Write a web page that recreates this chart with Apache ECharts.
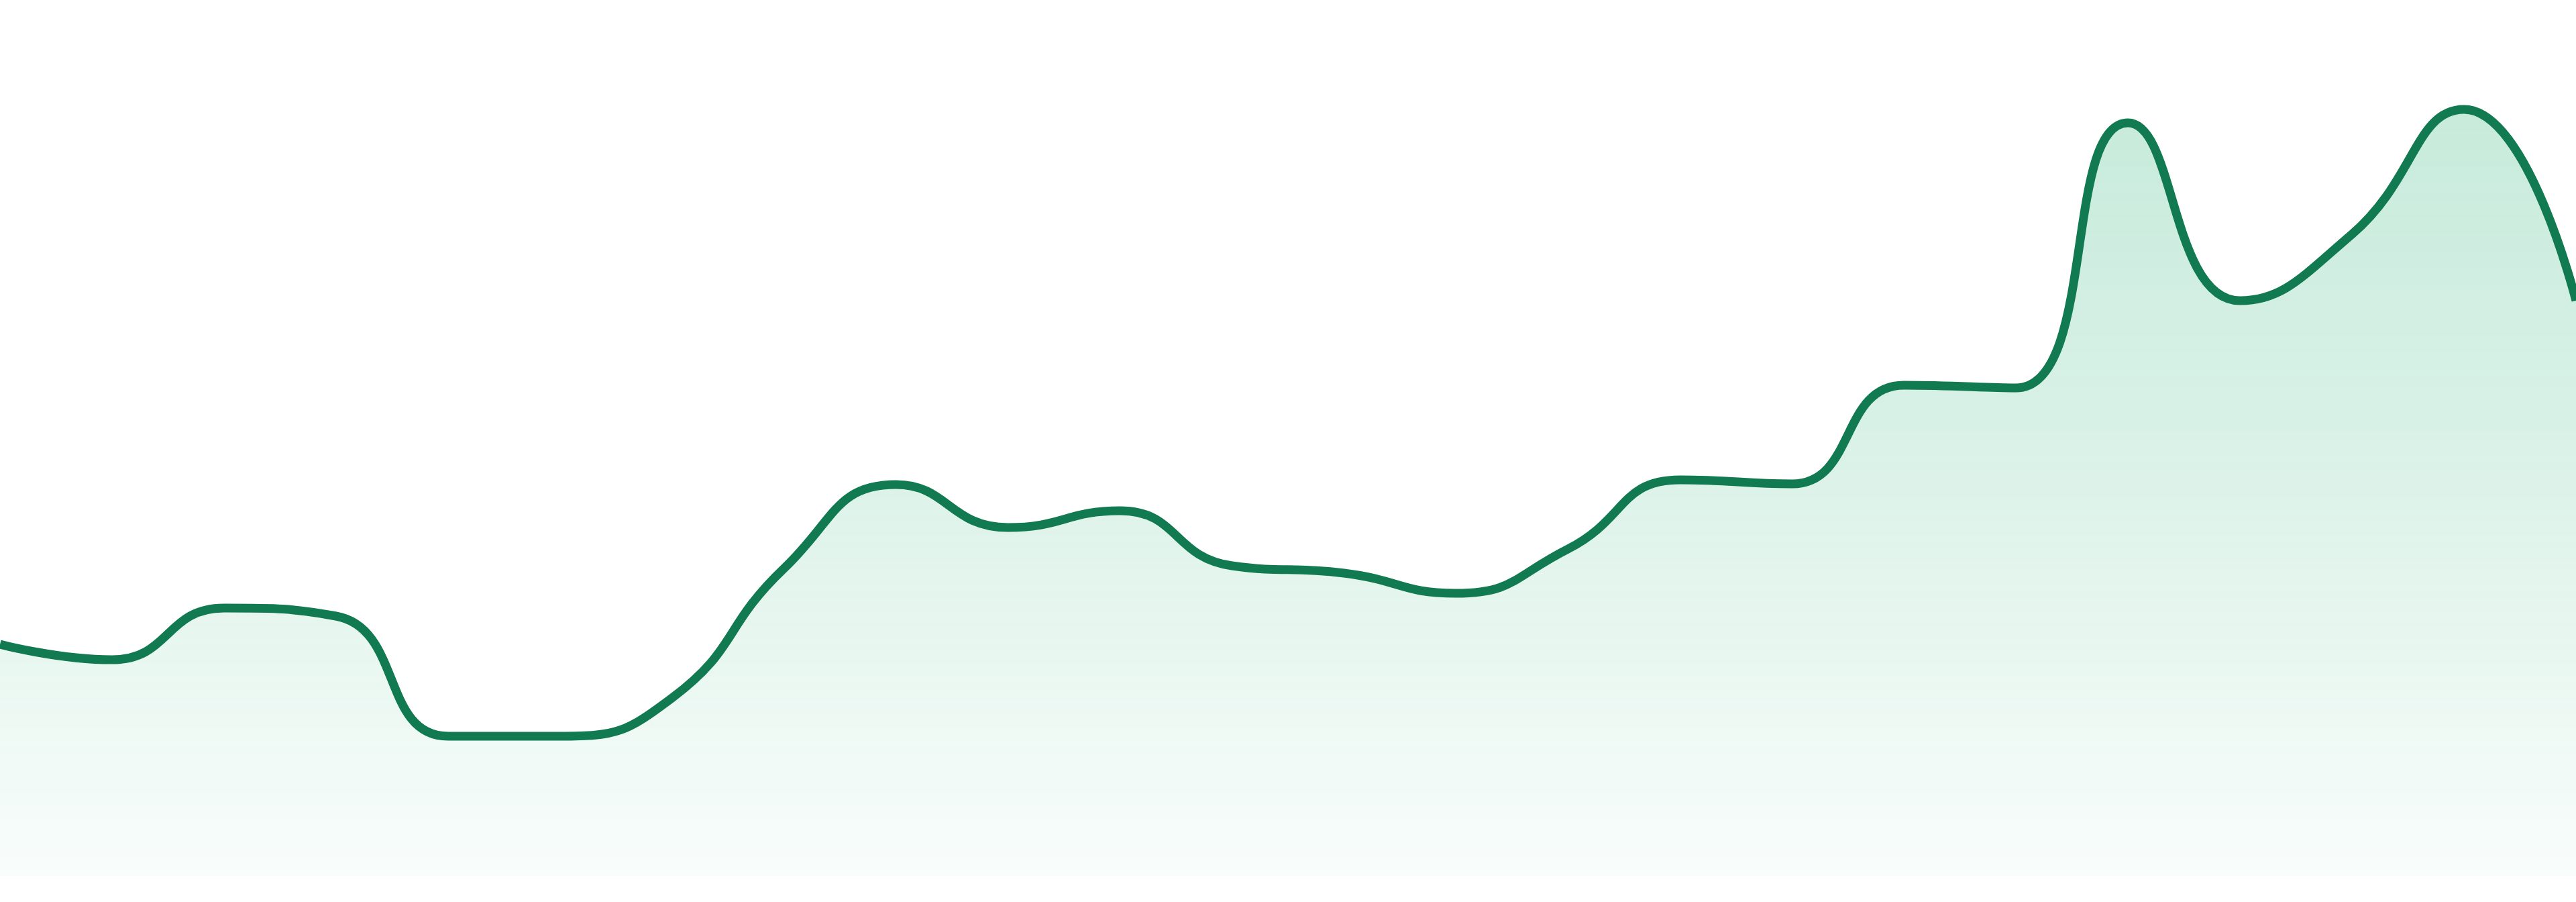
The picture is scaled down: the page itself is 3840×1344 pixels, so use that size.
<!DOCTYPE html>
<html>
<head>
<meta charset="utf-8">
<title>trend</title>
<script src="https://cdn.jsdelivr.net/npm/echarts@6/dist/echarts.min.js"></script>
<style>
    html, body {
        margin: 0;
        padding: 0;
        background: #ffffff;
    }
    #trend-area {
        width: 3840px;
        height: 1344px;
    }
</style>
</head>
<body>
<div id="trend-area"></div>
<script>
// 24 points, no labels are shown in the picture
var categories = ['1', '2', '3', '4', '5', '6', '7', '8', '9', '10', '11', '12',
    '13', '14', '15', '16', '17', '18', '19', '20', '21', '22', '23', '24'];

var values = [34.5, 32.2, 39.9, 38.7, 20.8, 20.8, 26.5, 45.8, 58.3, 51.9, 54.4, 46.2,
    45.1, 42.1, 48.7, 59.0, 58.4, 73.1, 72.7, 112.2, 85.7, 95.6, 114.2, 85.7];

var yMin = 0;
var yMax = 130;

function drawTrend() {
    var myChart = echarts.init(document.getElementById('trend-area'));

    var option = {
        animation: false,
        grid: {
            left: 0,
            right: 0,
            top: 5,
            bottom: 39
        },
        xAxis: {
            type: 'category',
            boundaryGap: false,
            data: categories,
            show: false
        },
        yAxis: {
            type: 'value',
            min: yMin,
            max: yMax,
            show: false,
            splitLine: {
                show: false
            }
        },
        series: [{
            type: 'line',
            data: values,
            smooth: true,
            showSymbol: false,
            lineStyle: {
                color: '#117a50',
                width: 13
            },
            areaStyle: {
                color: new echarts.graphic.LinearGradient(0, 0, 0, 1, [{
                    offset: 0,
                    color: 'rgba(20, 170, 105, 0.34)'
                }, {
                    offset: 0.4,
                    color: 'rgba(20, 170, 105, 0.24)'
                }, {
                    offset: 1,
                    color: 'rgba(20, 170, 105, 0.04)'
                }])
            }
        }]
    };
    myChart.setOption(option);
}

drawTrend();
</script>
</body>
</html>
